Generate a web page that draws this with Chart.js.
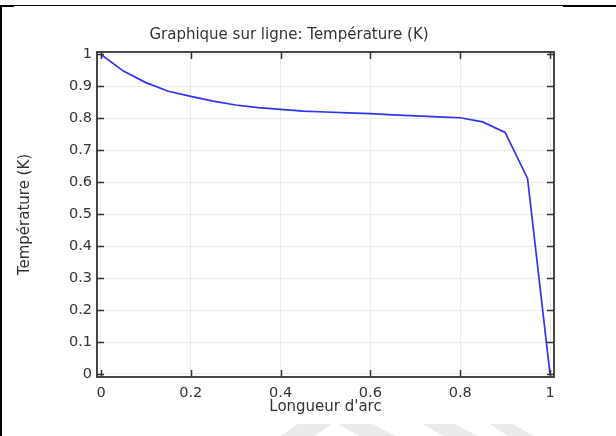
<!DOCTYPE html>
<html>
<head>
<meta charset="utf-8">
<script src="https://cdn.jsdelivr.net/npm/chart.js@4/dist/chart.umd.min.js"></script>
<style>
  html, body { margin: 0; padding: 0; background: #fff; }
  #wrap { position: relative; width: 616px; height: 436px; overflow: hidden; }
  canvas { position: absolute; left: 0; top: 0; }
  .b { position: absolute; background: #000; }
  .wm { position: absolute; background: #ebebeb; }
</style>
</head>
<body>
<div id="wrap">
  <canvas id="c" width="616" height="436"></canvas>
  <div class="b" style="left:0;top:5px;width:616px;height:1px;"></div>
  <div class="b" style="left:0;top:5px;width:14px;height:2px;"></div>
  <div class="b" style="left:563px;top:5px;width:53px;height:2px;"></div>
  <div class="b" style="left:0;top:5px;width:2px;height:431px;"></div>
  <div class="wm" style="left:280px;top:424px;width:52px;height:12px;clip-path:polygon(34% 0,100% 0,66% 100%,0 100%);"></div>
  <div class="wm" style="left:338px;top:424px;width:58px;height:12px;clip-path:polygon(0 0,60% 0,100% 100%,36% 100%);"></div>
  <div class="wm" style="left:422px;top:424px;width:56px;height:12px;clip-path:polygon(0 0,58% 0,100% 100%,38% 100%);"></div>
  <div class="wm" style="left:490px;top:424px;width:44px;height:12px;clip-path:polygon(0 0,52% 0,100% 100%,40% 100%);"></div>
</div>
<script>
// ---- data ----
const arcLength = [0, 0.05, 0.1, 0.15, 0.2, 0.25, 0.3, 0.35, 0.4, 0.45, 0.5,
                   0.55, 0.6, 0.65, 0.7, 0.75, 0.8, 0.85, 0.9, 0.95, 1.0];
const temperature = [1.0, 0.948, 0.912, 0.885, 0.869, 0.854, 0.842, 0.834, 0.828, 0.823, 0.820,
                     0.817, 0.815, 0.811, 0.808, 0.805, 0.802, 0.789, 0.756, 0.612, 0.0];
const xTickLabels = ['0', '0.2', '0.4', '0.6', '0.8', '1'];
const yTickLabels = ['0', '0.1', '0.2', '0.3', '0.4', '0.5', '0.6', '0.7', '0.8', '0.9', '1'];
const chartTitle = 'Graphique sur ligne: Température (K)';
const xTitle = "Longueur d'arc";
const yTitle = 'Température (K)';

const FONT = 'DejaVu Sans';
const TXT = '#333';

const framePlugin = {
  id: 'frame',
  afterDatasetsDraw(chart) {
    const { ctx, chartArea: a, scales: { x, y } } = chart;
    ctx.save();
    ctx.strokeStyle = '#333';
    ctx.lineWidth = 1.5;
    ctx.beginPath();
    const L = 7;
    xTickLabels.forEach(t => {
      const px = Math.round(x.getPixelForValue(parseFloat(t))) + 0.5;
      ctx.moveTo(px, a.bottom); ctx.lineTo(px, a.bottom - L);
      ctx.moveTo(px, a.top); ctx.lineTo(px, a.top + L);
    });
    yTickLabels.forEach(t => {
      const py = Math.round(y.getPixelForValue(parseFloat(t))) + 0.5;
      ctx.moveTo(a.left, py); ctx.lineTo(a.left + L, py);
      ctx.moveTo(a.right, py); ctx.lineTo(a.right - L, py);
    });
    ctx.stroke();
    ctx.lineWidth = 1.8;
    ctx.strokeRect(a.left, a.top, a.right - a.left, a.bottom - a.top);
    ctx.restore();
  }
};

new Chart(document.getElementById('c'), {
  type: 'scatter',
  data: {
    datasets: [{
      data: arcLength.map((v, i) => ({ x: v, y: temperature[i] })),
      showLine: true,
      borderColor: 'rgb(50,50,240)',
      borderWidth: 1.7,
      pointRadius: 0,
      tension: 0,
      fill: false
    }]
  },
  options: {
    responsive: false,
    devicePixelRatio: 1,
    animation: false,
    layout: { padding: { left: 24, right: 62, top: 0, bottom: 20 } },
    plugins: {
      legend: { display: false },
      tooltip: { enabled: false },
      title: {
        display: true,
        text: chartTitle,
        color: TXT,
        font: { family: FONT, size: 15, weight: 'normal' },
        padding: { top: 26, bottom: 8 }
      }
    },
    scales: {
      x: {
        type: 'linear',
        min: -0.0089, max: 1.0089,
        afterBuildTicks: s => { s.ticks = xTickLabels.map(t => ({ value: parseFloat(t) })); },
        afterFit: s => { s.height = 39; },
        grid: { color: '#ececec', lineWidth: 1, drawTicks: false },
        border: { display: false },
        ticks: {
          color: TXT, padding: 8,
          font: { family: FONT, size: 14.5 },
          callback: (v) => xTickLabels[xTickLabels.map(parseFloat).indexOf(v)] ?? ''
        },
        title: {
          display: true, text: xTitle, color: TXT,
          font: { family: FONT, size: 15 },
          padding: { top: 0, bottom: 0 }
        }
      },
      y: {
        type: 'linear',
        min: -0.0094, max: 1.0078,
        afterBuildTicks: s => { s.ticks = yTickLabels.map(t => ({ value: parseFloat(t) })); },
        afterFit: s => { s.width = 73; },
        grid: { color: '#ececec', lineWidth: 1, drawTicks: false },
        border: { display: false },
        ticks: {
          color: TXT, padding: 5,
          font: { family: FONT, size: 14.5 },
          callback: (v) => yTickLabels[yTickLabels.map(parseFloat).indexOf(v)] ?? ''
        },
        title: {
          display: true, text: yTitle, color: TXT,
          font: { family: FONT, size: 15 },
          padding: { top: -8, bottom: 0 }
        }
      }
    }
  },
  plugins: [framePlugin]
});
</script>
</body>
</html>
